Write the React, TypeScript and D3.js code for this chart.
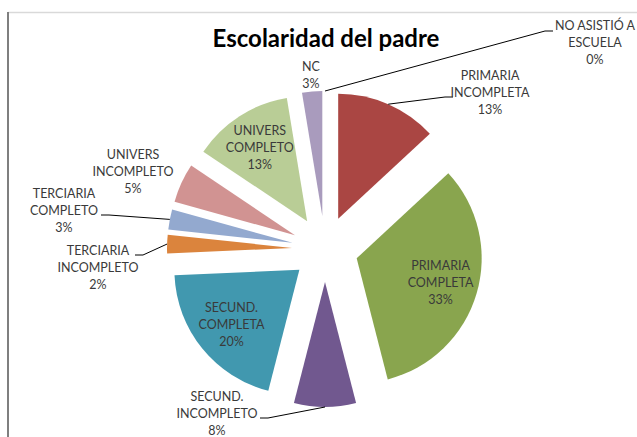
import * as d3 from "d3";

const categories = [
  "NO ASISTIÓ A\nESCUELA",
  "PRIMARIA\nINCOMPLETA",
  "PRIMARIA\nCOMPLETA",
  "SECUND.\nINCOMPLETO",
  "SECUND.\nCOMPLETA",
  "TERCIARIA\nINCOMPLETO",
  "TERCIARIA\nCOMPLETO",
  "UNIVERS\nINCOMPLETO",
  "UNIVERS\nCOMPLETO",
  "NC",
];
// shares (labels show them rounded)
const values = [0, 13.1, 32.9, 8.0, 20.3, 2.4, 2.6, 5.1, 13.0, 2.6];
const colors = [
  "#4572A7", "#AA4643", "#89A54E", "#71588F", "#4198AF",
  "#DB843D", "#93A9CF", "#D19392", "#B9CD96", "#A99BBD",
];

// outside labels: text centre x, first baseline y, where the leader touches (null = no leader)
const outside: Record<number, { x: number; y: number; lead: [number, number] | null }> = {
  0: { x: 595, y: 30, lead: [553, 31] },
  1: { x: 490, y: 80, lead: [453, 97] },
  3: { x: 217, y: 401, lead: [260, 418] },
  5: { x: 98, y: 255, lead: [135, 255] },
  6: { x: 64, y: 198, lead: [101, 215] },
  7: { x: 133, y: 159, lead: null },
  9: { x: 311, y: 71, lead: null },
};

const width = 637;
const height = 437;
const cx = 325;
const cy = 249;
const radius = 125;
const explode = 33;
const lineH = 17;

export default function App() {
  const total = d3.sum(values);
  const pct = d3.format(".0%");
  const arcs = d3.pie<number>().sort(null).value((d) => d)(values);
  const arc = d3.arc<d3.PieArcDatum<number>>().innerRadius(0).outerRadius(radius);

  const shift = (a: d3.PieArcDatum<number>) => {
    const m = (a.startAngle + a.endAngle) / 2;
    return [Math.sin(m) * explode, -Math.cos(m) * explode, m];
  };

  return (
    <svg width={width} height={height} style={{ position: "absolute", left: 0, top: 0, background: "#fff" }}
      fontFamily="Lato, 'Open Sans', sans-serif">
      <line x1={8} x2={width} y1={12.5} y2={12.5} stroke="#d9d9d9" strokeWidth={1.5} />
      <line x1={8} x2={8} y1={12} y2={height} stroke="#7f7f7f" strokeWidth={2} />
      <text x={326} y={47} textAnchor="middle" fontSize={24} fontWeight="bold" fill="#000">
        Escolaridad del padre
      </text>
      <g transform={`translate(${cx},${cy})`}>
        {arcs.map((a, i) => {
          if (a.value === 0) return null;
          const [dx, dy] = shift(a);
          return <path key={i} d={arc(a) ?? ""} transform={`translate(${dx},${dy})`} fill={colors[i]} />;
        })}
      </g>
      {arcs.map((a, i) => {
        const [dx, dy, m] = shift(a);
        const lines = [...categories[i].split("\n"), pct(values[i] / total)];
        const o = outside[i];
        let tx: number, ty: number;
        if (o) {
          tx = o.x;
          ty = o.y;
        } else {
          const r = radius * 0.7;
          tx = cx + dx + Math.sin(m) * r;
          ty = cy + dy - Math.cos(m) * r - ((lines.length - 1) * lineH) / 2 + 4;
        }
        let leader = null;
        if (o && o.lead) {
          const px = cx + dx + Math.sin(m) * radius;
          const py = cy + dy - Math.cos(m) * radius;
          const [lx, ly] = o.lead;
          const ex = lx + (px > lx ? 8 : -8);
          leader = (
            <polyline points={`${lx},${ly} ${ex},${ly} ${px},${py}`} fill="none" stroke="#000" strokeWidth={1} />
          );
        }
        return (
          <g key={i}>
            {leader}
            <text textAnchor="middle" fontSize={12.5} fill="#3a3a3a">
              {lines.map((t, k) => (
                <tspan key={k} x={tx} y={ty + k * lineH}>{t}</tspan>
              ))}
            </text>
          </g>
        );
      })}
    </svg>
  );
}
